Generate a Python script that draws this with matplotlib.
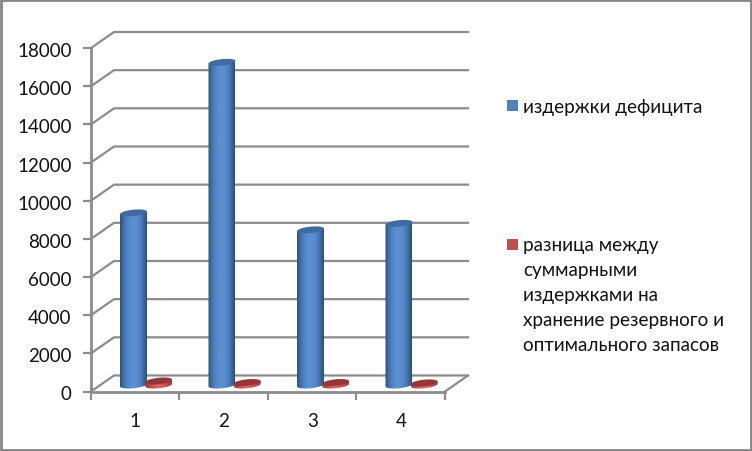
import numpy as np
import matplotlib
matplotlib.use('Agg')
import matplotlib.pyplot as plt
from matplotlib.colors import LinearSegmentedColormap
from matplotlib.patches import PathPatch, Polygon, Rectangle
from matplotlib.path import Path
from matplotlib.transforms import ScaledTranslation

# data
categories = [1, 2, 3, 4]
deficit_costs = [9020, 16910, 8130, 8470]
storage_diff = [210, 130, 130, 110]
y_ticks = list(range(0, 18001, 2000))
label_blue = 'издержки дефицита'
label_red = 'разница между\nсуммарными\nиздержками на\nхранение резервного и\nоптимального запасов'

W, H = 752, 452
plt.rcParams['font.family'] = ['Lato', 'DejaVu Sans']
GRID = '#8c8c8c'
TEXT = '#111111'

# depth of the fake 3d box, in data units
depth_x = 0.26
depth_y = 840
floor_y = 340      # where the cylinders stand
cyl_w = 0.305
cyl_h = 340
tilt = 70          # ellipses lean up to the right

fig = plt.figure(figsize=(W / 100, H / 100), dpi=100, facecolor='white')
ax = fig.add_axes([91 / W, 1 - 392.5 / H, 377 / W, 359.5 / H])
ax.set_xlim(0.5, 4.5 + depth_x)
ax.set_ylim(0, 18000 + depth_y)
ax.patch.set_visible(False)

# grid: back wall line and the diagonal on the side wall
for v in y_ticks:
    ax.plot([0.5, 0.5 + depth_x, 4.5 + depth_x], [v, v + depth_y, v + depth_y],
            color=GRID, lw=1.6, zorder=1, clip_on=False, solid_joinstyle='miter')
ax.plot([4.5, 4.5 + depth_x], [0, depth_y], color=GRID, lw=1.6, zorder=1, clip_on=False)

for side in ['top', 'right']:
    ax.spines[side].set_visible(False)
for side in ['left', 'bottom']:
    ax.spines[side].set_color(GRID)
    ax.spines[side].set_linewidth(2)
ax.spines['left'].set_bounds(0, 18000)
ax.spines['bottom'].set_bounds(0.5, 4.5)

ax.set_yticks(y_ticks)
ax.tick_params(axis='y', length=6, width=1.6, color=GRID, labelsize=13.5, labelcolor=TEXT, pad=8)
ax.set_xticks(categories)
ax.set_xticks([0.5, 1.5, 2.5, 3.5, 4.5], minor=True)
ax.tick_params(axis='x', which='major', length=0, labelsize=13.5, labelcolor=TEXT, pad=15)
ax.tick_params(axis='x', which='minor', length=6, width=1.6, color=GRID)

# labels sit a little lower in the original
nudge = ScaledTranslation(0, -1 / 100, fig.dpi_scale_trans)
for lab in ax.get_yticklabels():
    lab.set_transform(lab.get_transform() + nudge)

blue_map = LinearSegmentedColormap.from_list('b', ['#2d5482', '#4a7cb8', '#5a8fd2', '#5a8fd2', '#4a7cb8', '#2b4f7b'])
red_map = LinearSegmentedColormap.from_list('r', ['#a33c3a', '#c9504d', '#dc6a66', '#c9504d', '#a33c3a'])
grad = np.linspace(0, 1, 64).reshape(1, -1)


def cylinder(x, value, cmap, top_color):
    left, right = x - cyl_w / 2, x + cyl_w / 2
    top = floor_y + value
    t = np.linspace(0, 2 * np.pi, 60)
    ex = x + cyl_w / 2 * np.cos(t)
    ey = cyl_h / 2 * np.sin(t) + tilt * np.cos(t)
    # body outline, straight sides with a rounded bottom
    low = t >= np.pi
    verts = list(zip(ex[low], floor_y + ey[low]))
    verts += [(right, top + tilt), (left, top - tilt), (left, floor_y - tilt)]
    outline = PathPatch(Path(verts), transform=ax.transData, fc='none', ec='none')
    ax.add_patch(outline)
    im = ax.imshow(grad, cmap=cmap, aspect='auto', zorder=3,
                   extent=[left, right, floor_y - cyl_h, top + tilt])
    im.set_clip_path(outline)
    ax.add_patch(Polygon(np.column_stack([ex, top + ey]), closed=True, fc=top_color, ec='none', zorder=4))


for cat, a, b in zip(categories, deficit_costs, storage_diff):
    cylinder(cat - 0.02, a, blue_map, '#3f6b9f')
    cylinder(cat + 0.265, b, red_map, '#953735')

ax.set_xlim(0.5, 4.5 + depth_x)
ax.set_ylim(0, 18000 + depth_y)

# legend placed by hand, the two entries sit far apart
fig.add_artist(Rectangle((507 / W, 1 - 112 / H), 11 / W, 11 / H, transform=fig.transFigure,
                         fc='#4f81bd', ec='none'))
fig.add_artist(Rectangle((507 / W, 1 - 251 / H), 11 / W, 11 / H, transform=fig.transFigure,
                         fc='#c0504d', ec='none'))
fig.text(523 / W, 1 - 112.7 / H, label_blue, fontsize=13.6, color=TEXT, va='baseline', ha='left')
fig.text(523 / W, 1 - 237 / H, label_red, fontsize=13.6, color=TEXT, va='top', ha='left',
         linespacing=1.58)

# chart border
fig.add_artist(Rectangle((1 / W, 1 / H), (W - 2) / W, (H - 2) / H, transform=fig.transFigure,
                         fc='none', ec='#868686', lw=2))

fig.savefig('out.png', dpi=100)
